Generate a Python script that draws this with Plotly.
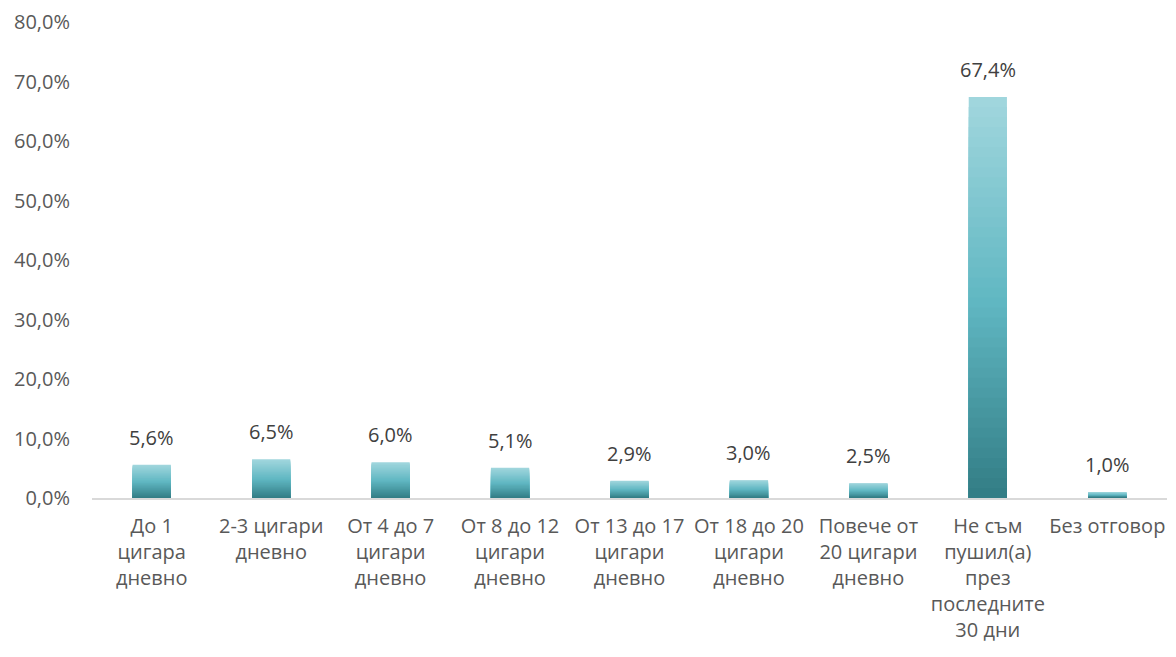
import plotly.graph_objects as go

# категории и стойности (%)
categories = ['До 1<br>цигара<br>дневно', '2-3 цигари<br>дневно', 'От 4 до 7<br>цигари<br>дневно',
              'От 8 до 12<br>цигари<br>дневно', 'От 13 до 17<br>цигари<br>дневно',
              'От 18 до 20<br>цигари<br>дневно', 'Повече от<br>20 цигари<br>дневно',
              'Не съм<br>пушил(а)<br>през<br>последните<br>30 дни', 'Без отговор']
values = [5.6, 6.5, 6.0, 5.1, 2.9, 3.0, 2.5, 67.4, 1.0]
labels = ['5,6%', '6,5%', '6,0%', '5,1%', '2,9%', '3,0%', '2,5%', '67,4%', '1,0%']

# градиент: отдолу (тъмно) -> среда -> отгоре (светло)
stops = [(0.0, (49, 123, 131)), (0.5, (96, 183, 194)), (1.0, (160, 214, 221))]


def grad(f):
    for (f0, c0), (f1, c1) in zip(stops, stops[1:]):
        if f0 <= f <= f1:
            t = (f - f0) / (f1 - f0)
            return 'rgb(%d,%d,%d)' % tuple(round(a + (b - a) * t) for a, b in zip(c0, c1))
    return 'rgb(%d,%d,%d)' % stops[-1][1]


N = 40
fig = go.Figure()
for k in range(N):
    f = 1 - k / N
    fig.add_trace(go.Bar(
        x=categories, y=[v * f for v in values],
        marker=dict(color=grad(f), line=dict(width=0)),
        width=0.32, hoverinfo='skip', showlegend=False,
    ))

# етикети над стълбовете
for c, v, t in zip(categories, values, labels):
    fig.add_annotation(x=c, y=v, text=t, showarrow=False, yanchor='bottom', yshift=12,
                       font=dict(size=20, color='#404040'))

# страницата има 8px отстъп
fig.update_layout(
    barmode='overlay',
    width=1168, height=649,
    margin=dict(l=84, r=9, t=14, b=159),
    paper_bgcolor='white', plot_bgcolor='white',
    font=dict(family='Open Sans', size=20, color='#595959'),
    separators=',.',
)
fig.update_xaxes(showline=True, linecolor='#D9D9D9', linewidth=2, showgrid=False,
                 ticks='', tickangle=0, ticklabelstandoff=9, automargin=False,
                 tickfont=dict(size=20, color='#595959'))
fig.update_yaxes(range=[0, 80], dtick=10, tickformat='.1f', ticksuffix='%',
                 showgrid=False, zeroline=False, showline=False, automargin=False,
                 ticklabelstandoff=21, tickfont=dict(size=20, color='#595959'))

fig.write_html('out.html')
